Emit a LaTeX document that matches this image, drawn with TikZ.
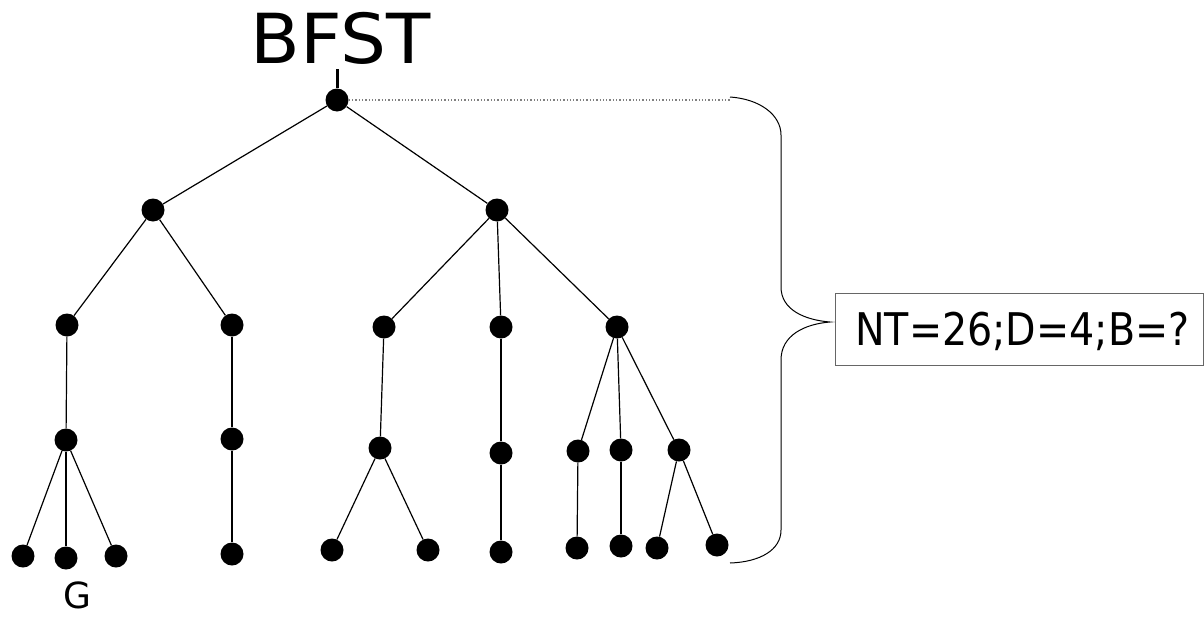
\documentclass[tikz,border=0pt]{standalone}
\usepackage{fontspec}
\setmainfont{DejaVu Sans}
\begin{document}
\begin{tikzpicture}[x=1pt,y=-1pt,
  dot/.style={circle,fill=black,inner sep=0pt,minimum size=23pt},
  edge/.style={line width=1.2pt},
  lbl/.style={inner sep=0pt}]
\useasboundingbox (0,0) rectangle (1204,616);
% nodes
\node[dot] (r) at (337,100) {};
\node[dot] (a) at (153,210) {};
\node[dot] (b) at (497,210) {};
\node[dot] (c) at (67,325) {};
\node[dot] (d) at (232,325) {};
\node[dot] (e) at (384,327) {};
\node[dot] (f) at (501,327) {};
\node[dot] (g) at (617,327) {};
\node[dot] (h) at (66,440) {};
\node[dot] (i) at (232,439) {};
\node[dot] (j) at (380,448) {};
\node[dot] (k) at (501,453) {};
\node[dot] (l) at (578,451) {};
\node[dot] (m) at (621,450) {};
\node[dot] (n) at (679,450) {};
\node[dot] (h1) at (23,556) {};
\node[dot] (h2) at (66,558) {};
\node[dot] (h3) at (116,556) {};
\node[dot] (i1) at (232,554) {};
\node[dot] (j1) at (332,550) {};
\node[dot] (j2) at (428,550) {};
\node[dot] (k1) at (501,552) {};
\node[dot] (l1) at (577,548) {};
\node[dot] (m1) at (621,546) {};
\node[dot] (n1) at (657,548) {};
\node[dot] (n2) at (717,545) {};
% edges
\foreach \u/\v in {r/a,r/b,a/c,a/d,b/e,b/f,b/g,c/h,d/i,e/j,f/k,g/l,g/m,g/n,h/h1,h/h2,h/h3,i/i1,j/j1,j/j2,k/k1,l/l1,m/m1,n/n1,n/n2}
  \draw[edge] (\u) -- (\v);
% title
\node[lbl,anchor=base,xscale=1.05] (title) at (341,63) {\fontsize{69}{69}\selectfont BFST};
\coordinate (tk) at (337,69);
\draw[line width=3pt] (tk) -- (r.north);
% G label
\node[lbl,anchor=base] (G) at (77,608) {\fontsize{36}{36}\selectfont G};
% dotted line
\coordinate (dl) at (730,100);
\draw[gray,dotted,line width=1.3pt] (r.east) -- (dl);
% brace
\coordinate (bt) at (730,97);
\coordinate (bm) at (830,322);
\coordinate (bb) at (730,563);
\draw[line width=1pt] (bt) .. controls (760,99) and (781,115) .. (781,135)
  -- (781,287) .. controls (781,310) and (805,320) .. (bm)
  .. controls (805,324) and (781,335) .. (781,360)
  -- (781,530) .. controls (781,550) and (760,562) .. (bb);
% box
\node[draw=gray!80!black,line width=1pt,minimum width=368pt,minimum height=72pt,inner sep=0pt,anchor=west] (box) at (835,329) {};
\node[lbl,anchor=base west,xscale=0.88] (txt) at (855,345) {\fontsize{45}{45}\selectfont NT=26;D=4;B=?};
\end{tikzpicture}
\end{document}
